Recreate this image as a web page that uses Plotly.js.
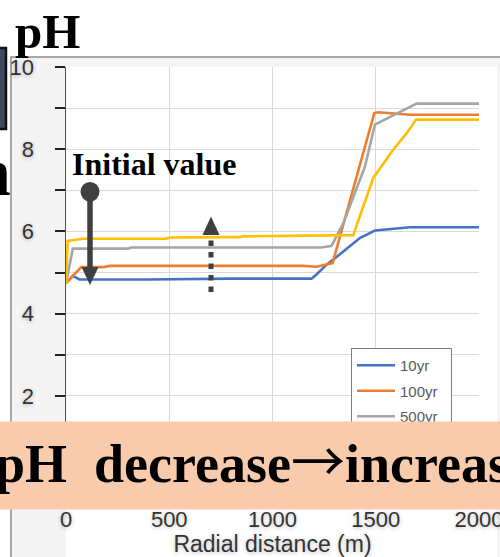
<!DOCTYPE html>
<html>
<head>
<meta charset="utf-8">
<script src="https://cdn.plot.ly/plotly-3.0.1.min.js"></script>
<style>html,body{margin:0;padding:0;background:#fff;}#chart{width:500px;height:557px;}</style>
</head>
<body>
<div id="chart"></div>
<script>
// ---- data ----
const seriesNames = ["10yr", "100yr", "500yr", "1000yr"];
const seriesColors = ["#4472C4", "#ED7D31", "#A5A5A5", "#FFC000"];

const x10 = [0, 33, 65, 400, 800, 1189, 1213, 1262, 1343, 1423, 1496, 1601, 1666, 2000];
const y10 = [4.74, 4.92, 4.83, 4.83, 4.85, 4.85, 4.95, 5.19, 5.51, 5.84, 6.02, 6.06, 6.10, 6.10];

const x100 = [0, 74, 178, 211, 1150, 1213, 1291, 1493, 1512, 1601, 1666, 2000];
const y100 = [4.74, 5.13, 5.13, 5.16, 5.16, 5.14, 5.23, 8.88, 8.90, 8.86, 8.84, 8.84];

const x500 = [0, 33, 300, 316, 1237, 1286, 1343, 1391, 1448, 1496, 1698, 2000];
const y500 = [4.74, 5.58, 5.58, 5.61, 5.61, 5.65, 6.20, 6.85, 7.58, 8.60, 9.11, 9.11];

const x1000 = [0, 8, 82, 486, 502, 841, 860, 1294, 1391, 1488, 1585, 1650, 1695, 2000];
const y1000 = [4.74, 5.77, 5.82, 5.82, 5.85, 5.86, 5.88, 5.90, 5.91, 7.30, 7.99, 8.39, 8.72, 8.72];

const xTickVals = [0, 500, 1000, 1500, 2000];
const yTickVals = [0, 2, 4, 6, 8, 10];

const xs = [x10, x100, x500, x1000];
const ys = [y10, y100, y500, y1000];

// ---- layout helpers (pixel -> paper) ----
const L = 66, T = 67, PW = 413, PHt = 411;
const px = v => (v - L) / PW;
const py = v => (T + PHt - v) / PHt;

const traces = seriesNames.map((n, i) => ({
  x: xs[i], y: ys[i], name: n, type: 'scatter', mode: 'lines',
  line: {color: seriesColors[i], width: 2.6},
  legendgroup: 'g' + i
}));

const sans = 'Arial, "Liberation Sans", sans-serif';
const serif = '"Liberation Serif", "Times New Roman", serif';
const shadow = '0px 1px 4px rgba(0,0,0,0.28)';
const dark = '#404040';

const shapes = [
  // chart frame
  {type: 'rect', xref: 'paper', yref: 'paper', x0: px(11), x1: px(600), y0: py(57), y1: py(700),
   fillcolor: '#f4f4f4', line: {color: '#8c8c8c', width: 1.5}, layer: 'below'},
  {type: 'rect', xref: 'paper', yref: 'paper', x0: px(66), x1: px(497), y0: py(67), y1: py(600),
   fillcolor: '#ffffff', line: {width: 0}, layer: 'below'},
  // dark box at left edge
  {type: 'rect', xref: 'paper', yref: 'paper', x0: px(-10), x1: px(6), y0: py(48), y1: py(129),
   fillcolor: '#3e4a5e', line: {color: '#111', width: 2.5}, layer: 'above'},
  // solid arrow (initial value -> decrease)
  {type: 'line', xref: 'paper', yref: 'paper', x0: px(90), x1: px(90), y0: py(192), y1: py(269),
   line: {color: dark, width: 5.5}, layer: 'above'},
  {type: 'circle', xref: 'paper', yref: 'paper', x0: px(80.5), x1: px(99.5), y0: py(182), y1: py(201.5),
   fillcolor: dark, line: {width: 0}, layer: 'above'},
  {type: 'path', xref: 'paper', yref: 'paper',
   path: `M${px(81.5)},${py(267)} L${px(98.5)},${py(267)} L${px(90)},${py(285)} Z`,
   fillcolor: dark, line: {width: 0}, layer: 'above'},
  // dashed arrow (increase)
  {type: 'line', xref: 'paper', yref: 'paper', x0: px(211), x1: px(211), y0: py(292), y1: py(234),
   line: {color: dark, width: 5, dash: '5.5px,6px'}, layer: 'above'},
  {type: 'path', xref: 'paper', yref: 'paper',
   path: `M${px(202.5)},${py(235)} L${px(219.5)},${py(235)} L${px(211)},${py(216.5)} Z`,
   fillcolor: dark, line: {width: 0}, layer: 'above'}
];

const annotations = [
  {text: '<b>Initial value</b>', xref: 'paper', yref: 'paper', x: px(70), y: py(164), xanchor: 'left', yanchor: 'middle',
   showarrow: false, font: {family: serif, size: 32, color: '#000'}},
  {text: '<b>n</b>', xref: 'paper', yref: 'paper', x: px(13), y: py(172), xanchor: 'right', yanchor: 'middle',
   showarrow: false, font: {family: serif, size: 68, color: '#000'}},
  // band (drawn above the legend)
  {text: ' ', xref: 'paper', yref: 'paper',
   x: px(-20), y: py(420.5), xanchor: 'left', yanchor: 'top',
   width: 700, height: 87, borderpad: 0, bgcolor: '#F8CBAD', showarrow: false,
   font: {family: serif, size: 10, color: '#000'}},
  {text: '<b>pH\u00a0\u00a0decrease</b><span style="font-family:\'Noto Sans CJK JP\'">\u2192</span><b>increase</b>',
   xref: 'paper', yref: 'paper',
   x: px(-7), y: py(458), xanchor: 'left', yanchor: 'middle', align: 'left',
   showarrow: false,
   font: {family: serif, size: 54, color: '#000'}}
];

const layout = {
  width: 500, height: 557,
  margin: {l: L, r: 500 - L - PW, t: T, b: 557 - T - PHt, pad: 0},
  paper_bgcolor: '#ffffff', plot_bgcolor: 'rgba(0,0,0,0)',
  showlegend: true,
  title: {text: '<b>pH</b>', xref: 'container', yref: 'container', x: 15 / 500, xanchor: 'left',
          y: 1 - 31 / 557, yanchor: 'middle', font: {family: serif, size: 49, color: '#000'}},
  xaxis: {
    range: [0, 2000], tickvals: xTickVals, ticktext: xTickVals.map(String),
    showgrid: true, gridcolor: '#d9d9d9', gridwidth: 1.2, zeroline: false, showline: false,
    ticks: '', ticklabelstandoff: 26, ticklabeloverflow: 'allow', automargin: false,
    tickfont: {family: sans, size: 22, color: '#333', shadow: shadow},
    title: {text: 'Radial distance (m)', standoff: 5, font: {family: sans, size: 23, color: '#333', shadow: shadow}},
    fixedrange: true
  },
  yaxis: {
    range: [0, 10], tickvals: yTickVals, ticktext: yTickVals.map(String),
    showgrid: true, gridcolor: '#d9d9d9', gridwidth: 1.2, zeroline: false,
    showline: true, linecolor: '#4d4d4d', linewidth: 1.5,
    ticks: 'outside', ticklen: 10, tickwidth: 2, tickcolor: '#222',
    minor: {dtick: 1, tick0: 0, ticks: 'outside', ticklen: 10, tickwidth: 2, tickcolor: '#222',
            showgrid: true, gridcolor: '#d9d9d9', gridwidth: 1.2},
    ticklabelstandoff: 16, ticklabeloverflow: 'allow', automargin: false,
    tickfont: {family: sans, size: 22, color: '#333', shadow: shadow},
    fixedrange: true
  },
  legend: {
    x: px(351), y: py(348), xanchor: 'left', yanchor: 'top',
    bgcolor: '#ffffff', bordercolor: '#7f7f7f', borderwidth: 1,
    font: {family: sans, size: 15, color: '#595959'},
    traceorder: 'grouped', tracegroupgap: 3, itemwidth: 38
  },
  shapes: shapes,
  annotations: annotations
};

Plotly.newPlot('chart', traces, layout, {displayModeBar: false, staticPlot: true});
</script>
</body>
</html>
